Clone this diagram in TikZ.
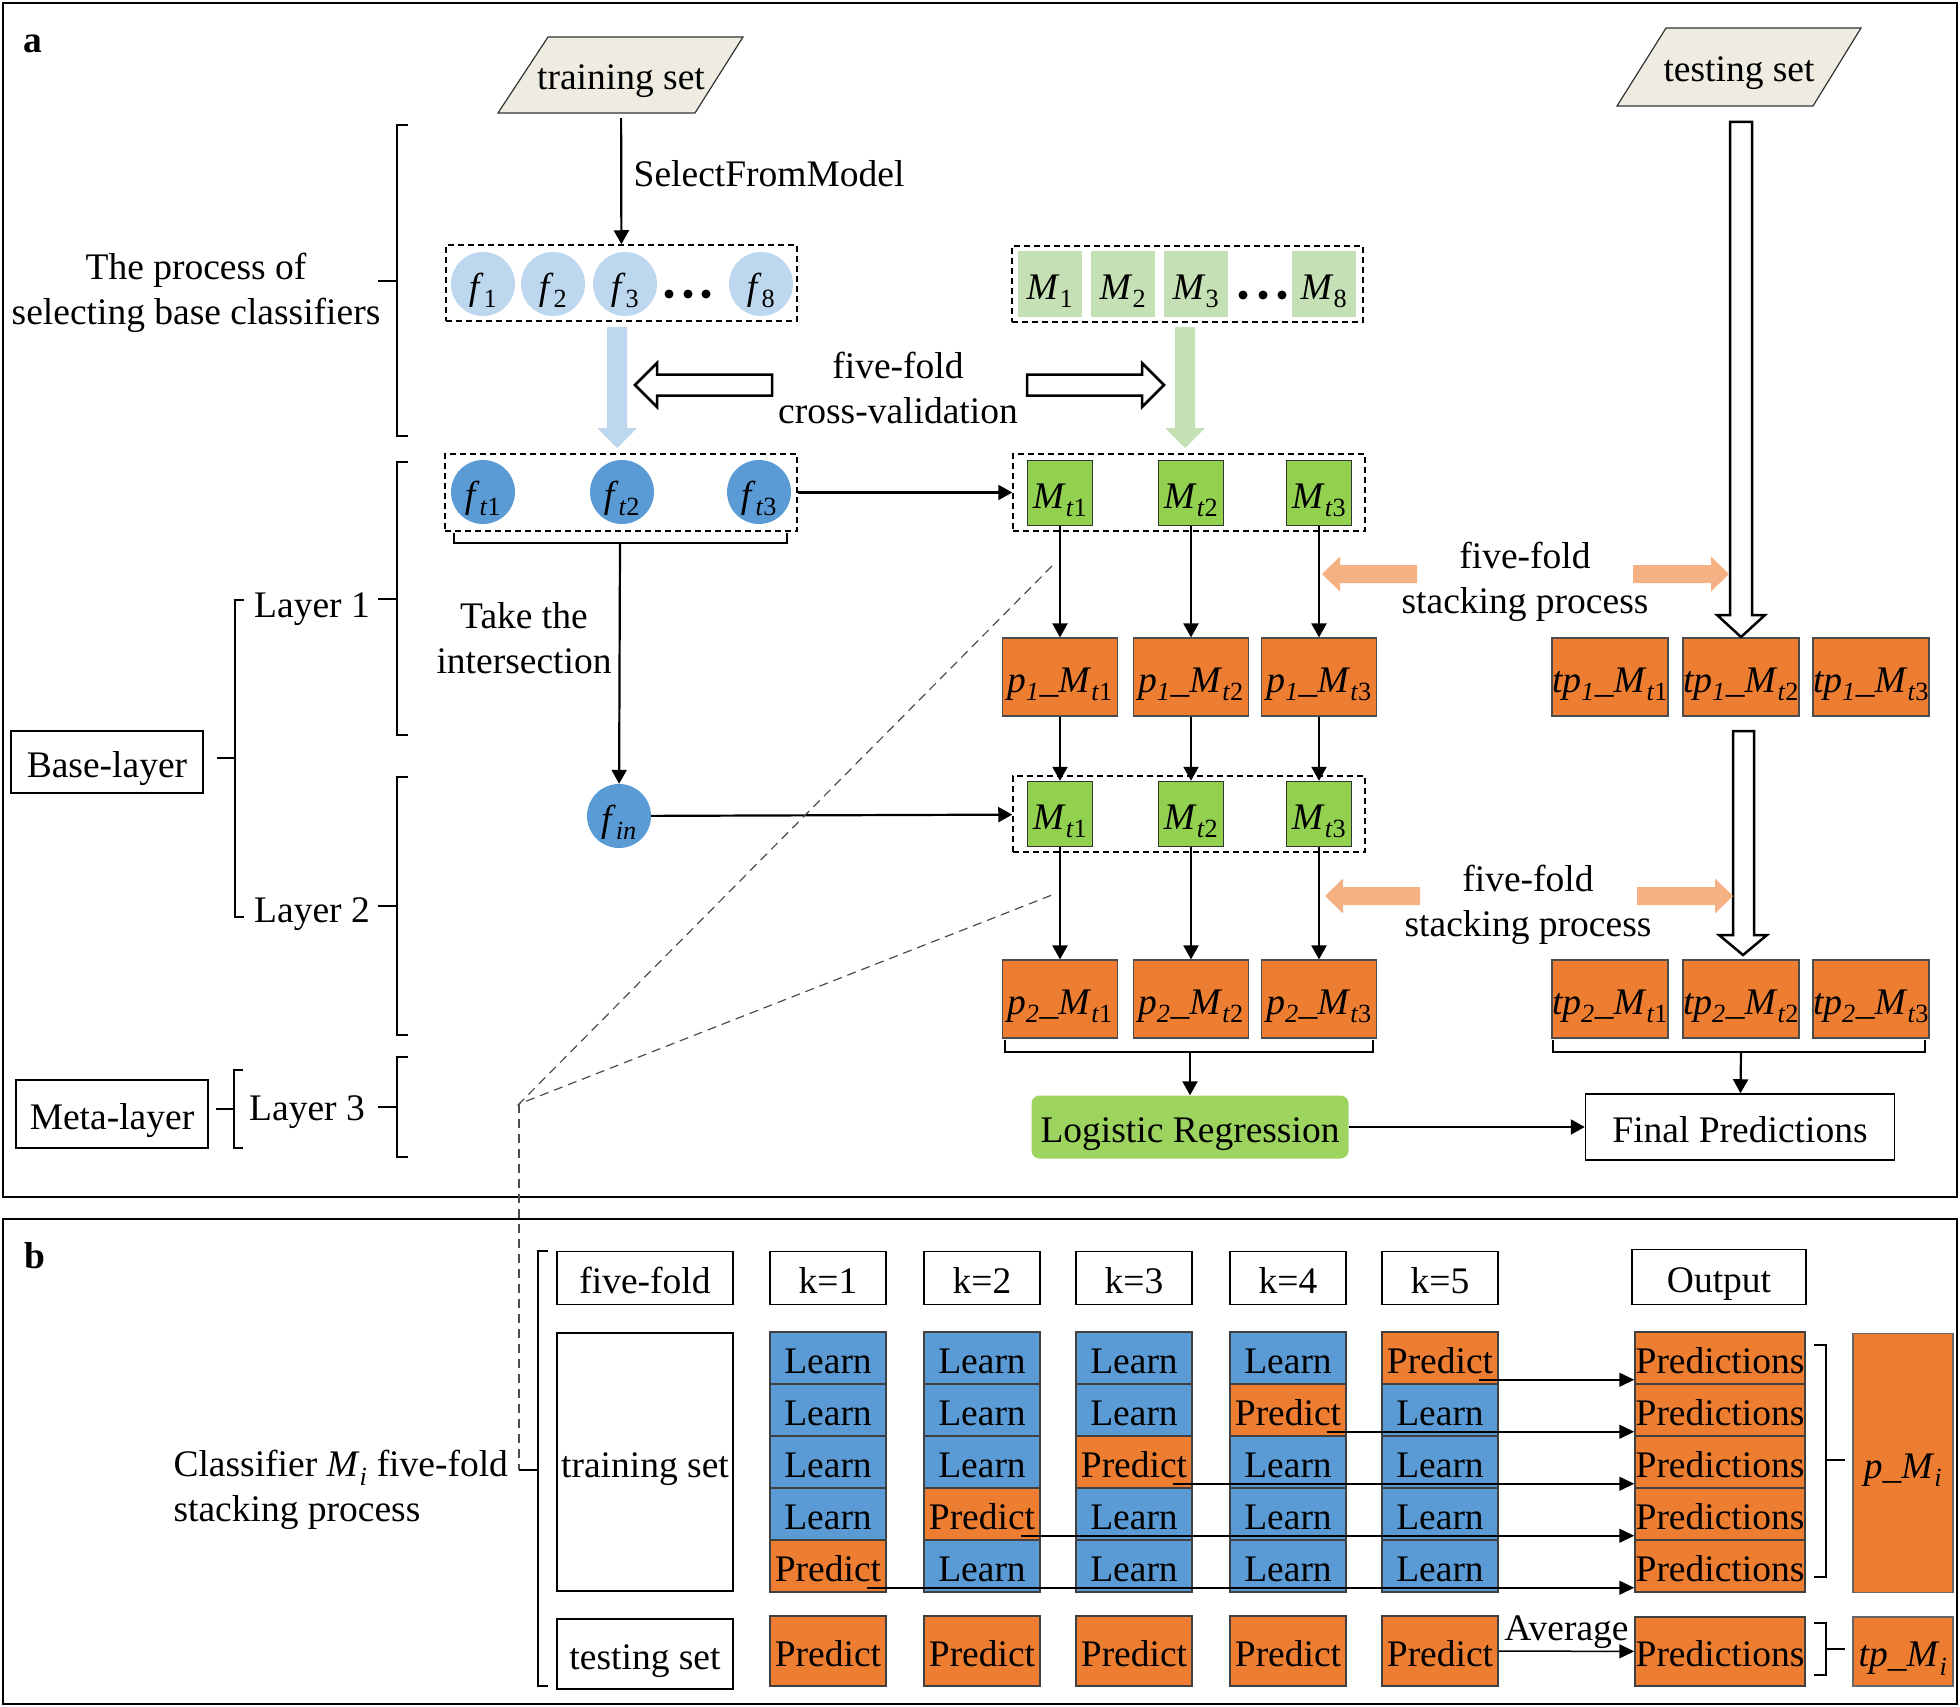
\documentclass[tikz,border=0pt]{standalone}
\usepackage{fontspec}
\setmainfont{Liberation Serif}
\usetikzlibrary{arrows.meta}
\definecolor{lblue}{HTML}{BDD7EE}
\definecolor{mblue}{HTML}{5B9BD5}
\definecolor{lgreen}{HTML}{C5E0B4}
\definecolor{mgreen}{HTML}{92D050}
\definecolor{lrgreen}{HTML}{9DD35F}
\definecolor{orng}{HTML}{ED7D31}
\definecolor{lorng}{HTML}{F4B183}
\definecolor{beige}{HTML}{EEECE1}
\newcommand{\Mt}[1]{\textit{M}\textsubscript{\textit{t}#1}}
\newcommand{\ft}[1]{\textit{f}\textsubscript{\textit{t}#1}}
\newcommand{\pM}[3]{\textit{#1p}\textsubscript{\textit{#2}}\_\Mt{#3}}
\tikzset{sl/.style={text height=30pt, text depth=0pt},
         dbox/.style={draw, dash pattern=on 6pt off 4pt, line width=1.5pt, inner sep=0pt},
         lcirc/.style={circle, fill=lblue, minimum size=64pt, inner sep=0pt, sl},
         dcirc/.style={circle, fill=mblue, minimum size=64pt, inner sep=0pt, sl},
         lsq/.style={fill=lgreen, minimum width=64pt, minimum height=65pt, inner sep=0pt, sl},
         gsq/.style={fill=mgreen, draw=black!80, line width=1.5pt, minimum size=65pt, inner sep=0pt, sl},
         obox/.style={fill=orng, draw=black!70, line width=1.2pt, minimum width=115pt, minimum height=78pt, inner sep=0pt, sl},
         wbox/.style={draw, line width=1.5pt, inner sep=0pt, sl},
         cell/.style={draw=black!75, line width=1.5pt, minimum width=116pt, minimum height=52pt, inner sep=0pt, sl},
         learncell/.style={cell, fill=mblue},
         predcell/.style={cell, fill=orng},
         arr/.style={-{Triangle[length=14pt,width=15pt]}, line width=2.2pt},
         tarr/.style={-{Triangle[length=15pt,width=14pt]}, line width=1.5pt},
         hollow/.style={draw, fill=white, line width=2.5pt},
         brk/.style={line width=2pt},
         zoomline/.style={dash pattern=on 9pt off 6pt, line width=1.2pt, black!70}}
\begin{document}
\begin{tikzpicture}[x=1pt, y=-1pt, font=\fontsize{37.5}{45}\selectfont]
    \useasboundingbox (0,0) rectangle (1960,1707);

    % panel frames
    \draw[line width=2.5pt] (3,3) rectangle (1957,1197);
    \draw[line width=2.5pt] (3,1219) rectangle (1957,1704);
    \node[font=\fontsize{37.5}{45}\selectfont\bfseries] (la) at (33,44) {a};
    \node[font=\fontsize{37.5}{45}\selectfont\bfseries] (lb) at (35,1256) {b};

    % left labels and brackets
    \node[align=center] (proc) at (196,293) {The process of\\selecting base classifiers};
    \draw[brk] (408,125) -- (397,125) -- (397,436) -- (408,436) (397,281) -- (378,281);
    \node[text height=27pt, text depth=0pt] (l1) at (312,604) {Layer 1};
    \draw[brk] (408,462) -- (397,462) -- (397,735) -- (408,735) (397,599) -- (378,599);
    \node[text height=27pt, text depth=0pt] (l2) at (312,909) {Layer 2};
    \draw[brk] (408,777) -- (397,777) -- (397,1035) -- (408,1035) (397,906) -- (378,906);
    \node[text height=27pt, text depth=0pt] (l3) at (307,1107) {Layer 3};
    \draw[brk] (408,1057) -- (397,1057) -- (397,1157) -- (408,1157) (397,1107) -- (378,1107);
    \node[wbox, minimum width=192pt, minimum height=62pt] (base) at (107,762) {Base-layer};
    \draw[brk] (244,600) -- (235,600) -- (235,917) -- (244,917) (235,758) -- (217,758);
    \node[wbox, minimum width=192pt, minimum height=68pt] (meta) at (112,1114) {Meta-layer};
    \draw[brk] (243,1070) -- (234,1070) -- (234,1148) -- (243,1148) (234,1109) -- (216,1109);

    % training set and feature sets
    \filldraw[fill=beige, draw=black!80, line width=1.2pt] (498,113) -- (548,37) -- (743,37) -- (695,113) -- cycle;
    \node[minimum height=76pt, inner sep=0pt, sl] (trn) at (621,75) {training set};
    \node[dbox, minimum width=351pt, minimum height=76pt] (fbox) at (621.5,283) {};
    \draw[arr, shorten <=5pt] (trn) -- node[anchor=west, xshift=8pt, yshift=5pt] {SelectFromModel} (fbox);
    \node[lcirc] (f1) at (483,284) {\textit{f}\textsubscript{1}};
    \node[lcirc] (f2) at (553,284) {\textit{f}\textsubscript{2}};
    \node[lcirc] (f3) at (625,284) {\textit{f}\textsubscript{3}};
    \node[lcirc] (f8) at (761,284) {\textit{f}\textsubscript{8}};
    \foreach \x in {669,688,706} \fill (\x,294) circle[radius=4.5];

    \node[dbox, minimum width=351pt, minimum height=76pt] (mbox) at (1187.5,284) {};
    \node[lsq] (m1) at (1050,284) {\textit{M}\textsubscript{1}};
    \node[lsq] (m2) at (1123,284) {\textit{M}\textsubscript{2}};
    \node[lsq] (m3) at (1196,284) {\textit{M}\textsubscript{3}};
    \node[lsq] (m8) at (1324,284) {\textit{M}\textsubscript{8}};
    \foreach \x in {1243,1263,1282} \fill (\x,295) circle[radius=4.5];

    % five-fold cross-validation
    \fill[lblue] (607,327) -- (627,327) -- (627,428) -- (637,428) -- (617,448) -- (597,428) -- (607,428) -- cycle;
    \fill[lgreen] (1175,327) -- (1195,327) -- (1195,428) -- (1205,428) -- (1185,448) -- (1165,428) -- (1175,428) -- cycle;
    \node[align=center] (cv) at (898,388) {five-fold\\cross-validation};
    \draw[hollow] (772,374.5) -- (657,374.5) -- (657,363) -- (635,385) -- (657,407) -- (657,395.5) -- (772,395.5) -- cycle;
    \draw[hollow] (1027,374.5) -- (1142,374.5) -- (1142,363) -- (1164,385) -- (1142,407) -- (1142,395.5) -- (1027,395.5) -- cycle;

    % layer 1 features
    \node[dbox, minimum width=352pt, minimum height=77pt] (ftbox) at (621,492.5) {};
    \node[dcirc] (ft1) at (483,492) {\ft{1}};
    \node[dcirc] (ft2) at (622,492) {\ft{2}};
    \node[dcirc] (ft3) at (759,492) {\ft{3}};
    \draw[brk] (454,533) -- (454,543) -- (787,543) -- (787,533);
    \coordinate (ftb) at (620,543);
    \node[dcirc] (fin) at (619,816) {\textit{f}\textsubscript{\textit{in}}};
    \draw[arr] (ftb) -- (fin);
    \node[align=center] (isect) at (524,638) {Take the\\intersection};

    % stacking columns
    \node[dbox, minimum width=352pt, minimum height=77pt] (mtbox) at (1189,492.5) {};
    \node[dbox, minimum width=352pt, minimum height=76pt] (mbbox) at (1189,814) {};
    \draw[arr] (ftbox) -- (mtbox);
    \draw[arr] (fin) -- (mbbox);
    \foreach \i/\x in {1/1060,2/1191,3/1319}{
      \node[gsq] (ma\i) at (\x,493) {\Mt{\i}};
      \node[obox] (pa\i) at (\x,677) {\pM{}{1}{\i}};
      \node[gsq] (mb\i) at (\x,814) {\Mt{\i}};
      \node[obox] (pb\i) at (\x,999) {\pM{}{2}{\i}};
      \draw[arr] (ma\i) -- (pa\i);
      \draw[arr] (pa\i) -- (mb\i);
      \draw[arr] (mb\i) -- (pb\i);
    }
    \foreach \i/\x in {1/1610,2/1741,3/1871}{
      \node[obox] (ta\i) at (\x,677) {\pM{t}{1}{\i}};
      \node[obox] (tb\i) at (\x,999) {\pM{t}{2}{\i}};
    }

    % testing set
    \filldraw[fill=beige, draw=black!80, line width=1.2pt] (1617,106) -- (1666,28) -- (1861,28) -- (1813,106) -- cycle;
    \node[minimum height=78pt, inner sep=0pt, sl] (tst) at (1739,67) {testing set};
    \draw[hollow] (1730,122) -- (1752,122) -- (1752,615) -- (1765,615) -- (1741,637) -- (1717,615) -- (1730,615) -- cycle;
    \draw[hollow] (1733,731) -- (1754,731) -- (1754,935) -- (1767,935) -- (1743,955) -- (1719,935) -- (1733,935) -- cycle;

    % five-fold stacking process
    \foreach \y/\a/\b in {574/1322/1633, 896/1325/1637}{
      \fill[lorng] (\a+95,\y-9) -- (\a+18,\y-9) -- (\a+18,\y-17.5) -- (\a,\y) -- (\a+18,\y+17.5) -- (\a+18,\y+9) -- (\a+95,\y+9) -- cycle;
      \fill[lorng] (\b,\y-9) -- (\b+78,\y-9) -- (\b+78,\y-17.5) -- (\b+96,\y) -- (\b+78,\y+17.5) -- (\b+78,\y+9) -- (\b,\y+9) -- cycle;
    }
    \node[align=center] (sp1) at (1525,582) {five-fold\\stacking process};
    \node[align=center] (sp2) at (1528,905) {five-fold\\stacking process};

    % meta layer
    \draw[brk] (1005,1040) -- (1005,1052) -- (1373,1052) -- (1373,1040);
    \draw[brk] (1553,1040) -- (1553,1052) -- (1925,1052) -- (1925,1040);
    \coordinate (pbr) at (1190,1052);
    \coordinate (tbr) at (1741,1052);
    \node[fill=lrgreen, rounded corners=8pt, minimum width=317pt, minimum height=63pt, inner sep=0pt, sl] (lr) at (1190,1127) {Logistic Regression};
    \node[wbox, minimum width=309pt, minimum height=66pt] (fp) at (1740,1127) {Final Predictions};
    \draw[arr] (pbr) -- (lr);
    \draw[arr] (tbr) -- (fp);
    \draw[arr] (lr) -- (fp);

    % zoom lines
    \draw[zoomline] (1052,566) -- (519,1104) -- (1052,895);
    \draw[zoomline] (519,1104) -- (519,1470);

    % panel b
    \node[align=left, anchor=west] (clf) at (170,1490) {Classifier \textit{M}\textsubscript{\textit{i}} five-fold\\stacking process};
    \draw[brk] (548,1251) -- (538,1251) -- (538,1686) -- (548,1686) (538,1470) -- (519,1470);
    \node[wbox, minimum width=176pt, minimum height=53pt] (ff) at (645,1278) {five-fold};
    \node[wbox, minimum width=176pt, minimum height=258pt] (trs) at (645,1462) {training set};
    \node[wbox, minimum width=176pt, minimum height=70pt] (tss) at (645,1654) {testing set};
    \foreach \kk/\x in {1/828,2/982,3/1134,4/1288,5/1440}{
      \node[wbox, minimum width=116pt, minimum height=53pt] (k\kk) at (\x,1278) {k=\kk};
      \pgfmathtruncatemacro\prow{6-\kk}
      \foreach \rr/\y in {1/1358,2/1410,3/1462,4/1514,5/1566}{
        \ifnum\rr=\prow
          \node[predcell] (c\kk r\rr) at (\x,\y) {Predict};
        \else
          \node[learncell] (c\kk r\rr) at (\x,\y) {Learn};
        \fi
      }
      \node[predcell, minimum height=70pt] (t\kk) at (\x,1651) {Predict};
    }
    \node[wbox, minimum width=174pt, minimum height=55pt] (outp) at (1719,1277) {Output};
    \foreach \rr/\y in {1/1358,2/1410,3/1462,4/1514,5/1566}
      \node[predcell, minimum width=170pt] (o\rr) at (1720,\y) {Predictions};
    \node[predcell, minimum width=170pt, minimum height=69pt] (ot) at (1720,1651.5) {Predictions};
    \foreach \kk in {1,...,5}{
      \pgfmathtruncatemacro\prow{6-\kk}
      \coordinate (s\kk) at ([xshift=-20pt,yshift=5pt]c\kk r\prow.south east);
      \draw[tarr] (s\kk) -- (s\kk -| o\prow.west);
    }
    \draw[tarr] (t5) -- node[above, inner sep=2pt] {Average} (ot);
    \draw[brk] (1814,1345) -- (1826,1345) -- (1826,1577) -- (1814,1577) (1826,1460) -- (1845,1460);
    \draw[brk] (1814,1623) -- (1826,1623) -- (1826,1675) -- (1814,1675) (1826,1649) -- (1845,1649);
    \node[fill=orng, draw=black!60, line width=1.2pt, minimum width=100pt, minimum height=259pt, inner sep=0pt, sl] (pmi) at (1903,1463) {\textit{p\_M}\textsubscript{\textit{i}}};
    \node[fill=orng, draw=black!60, line width=1.2pt, minimum width=100pt, minimum height=69pt, inner sep=0pt, sl] (tpmi) at (1903,1651.5) {\textit{tp\_M}\textsubscript{\textit{i}}};
\end{tikzpicture}
\end{document}
